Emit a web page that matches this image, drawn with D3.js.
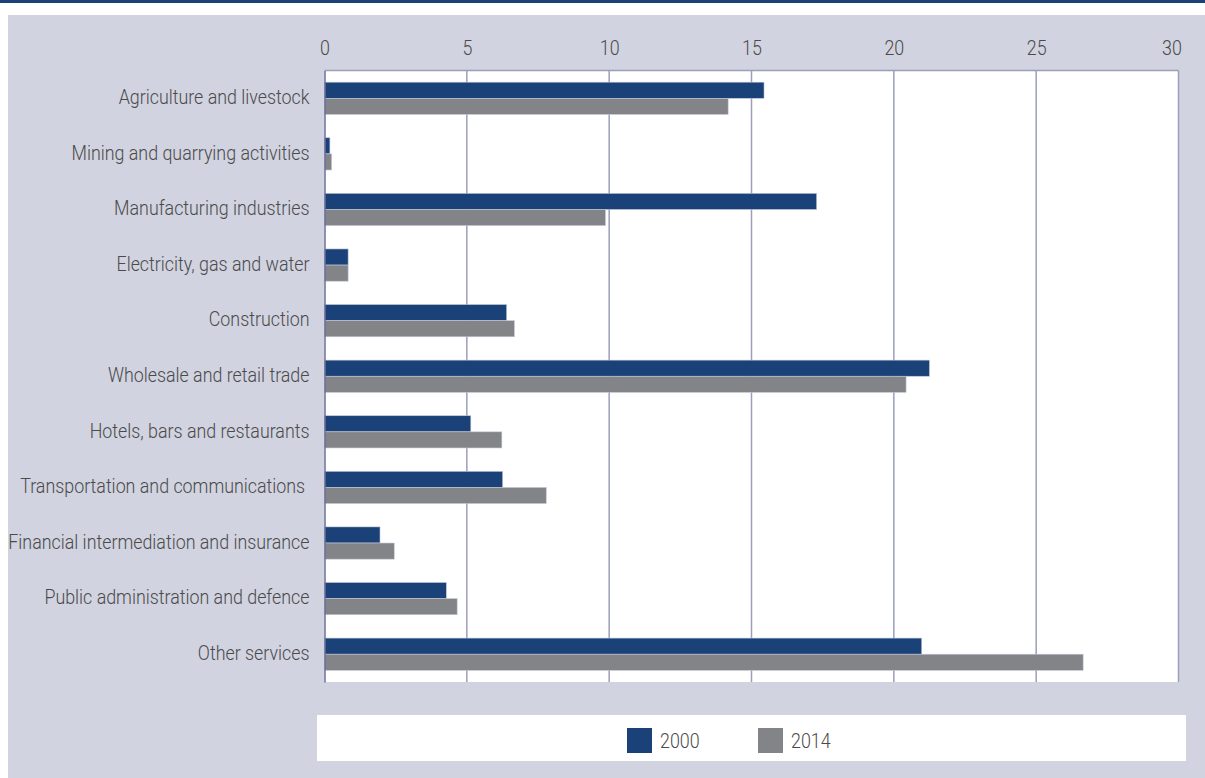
<!DOCTYPE html>
<html>
<head>
<meta charset="utf-8">
<script src="https://cdn.jsdelivr.net/npm/d3@7"></script>
<style>
    body { margin: 0; background: #fff; }
    svg text { font-family: 'Roboto', 'Liberation Sans', sans-serif; font-weight: 300; fill: #4a4a4a; white-space: pre; }
</style>
</head>
<body>
<svg id="chart" width="1205" height="778"></svg>
<script>
// sectors, top to bottom
var categories = [
    'Agriculture and livestock',
    'Mining and quarrying activities',
    'Manufacturing industries',
    'Electricity, gas and water',
    'Construction',
    'Wholesale and retail trade',
    'Hotels, bars and restaurants',
    'Transportation and communications ',
    'Financial intermediation and insurance',
    'Public administration and defence',
    'Other services'
]
var values2000 = [15.44, 0.19, 17.29, 0.83, 6.40, 21.25, 5.14, 6.26, 1.95, 4.28, 20.98]
var values2014 = [14.18, 0.25, 9.87, 0.83, 6.67, 20.43, 6.23, 7.79, 2.45, 4.66, 26.65]
var seriesNames = ['2000', '2014']
var xTicks = [0, 5, 10, 15, 20, 25, 30]

var colors = { '2000': '#1a4279', '2014': '#838488' }
var squeeze = 0.85 // condensed look

var svg = d3.select('#chart')

// header line + grey panel
svg.append('rect').attr('x', 0).attr('y', 0).attr('width', 1205).attr('height', 3).attr('fill', '#1a4279')
svg.append('rect').attr('x', 8).attr('y', 15).attr('width', 1197).attr('height', 763).attr('fill', '#d1d3e0')

var plot = { left: 324.5, right: 1178.5, top: 70.5, bottom: 682 }

var x = d3.scaleLinear()
    .domain([0, 30])
    .range([plot.left, plot.right])

var y = d3.scaleBand()
    .domain(categories)
    .range([plot.top, plot.bottom])
    .paddingInner(0.42)
    .paddingOuter(0.21)

var sub = d3.scaleBand()
    .domain(seriesNames)
    .range([0, y.bandwidth()])

svg.append('rect')
    .attr('x', plot.left).attr('y', plot.top)
    .attr('width', plot.right - plot.left).attr('height', plot.bottom - plot.top)
    .attr('fill', '#fff')

// vertical grid
svg.append('g')
    .selectAll('line')
    .data(xTicks.slice(1))
    .enter()
    .append('line')
    .attr('x1', function (d) { return x(d) })
    .attr('x2', function (d) { return x(d) })
    .attr('y1', plot.top)
    .attr('y2', plot.bottom)
    .attr('stroke', '#9c9eba')
    .attr('stroke-width', 1.5)

svg.append('line')
    .attr('x1', plot.left).attr('x2', plot.right)
    .attr('y1', plot.top).attr('y2', plot.top)
    .attr('stroke', '#9c9eba').attr('stroke-width', 1.5)

// top axis labels
var xAxis = d3.axisTop(x).tickValues(xTicks).tickSize(0).tickPadding(16).tickFormat(d3.format('d'))
var gx = svg.append('g')
    .attr('transform', 'translate(0,' + plot.top + ')')
    .call(xAxis)
gx.select('.domain').remove()
gx.selectAll('text')
    .style('font-size', '21px')
    .attr('fill', '#4a4a4a')
    .attr('transform', function (d) { return 'translate(' + (d === 30 ? -7 : 0) + ',0) scale(' + squeeze + ',1)' })

// bars
var data = categories.map(function (c, i) {
    return { cat: c, vals: [{ s: '2000', v: values2000[i] }, { s: '2014', v: values2014[i] }] }
})

var groups = svg.append('g')
    .selectAll('g')
    .data(data)
    .enter()
    .append('g')
    .attr('transform', function (d) { return 'translate(0,' + y(d.cat) + ')' })

groups.selectAll('rect')
    .data(function (d) { return d.vals })
    .enter()
    .append('rect')
    .attr('x', x(0))
    .attr('y', function (d) { return sub(d.s) })
    .attr('width', function (d) { return x(d.v) - x(0) })
    .attr('height', sub.bandwidth())
    .attr('fill', function (d) { return colors[d.s] })
    .attr('stroke', '#c4c8d8')
    .attr('stroke-width', 0.6)

// left axis
var yAxis = d3.axisLeft(y).tickSize(0).tickPadding(15)
var gy = svg.append('g')
    .attr('transform', 'translate(' + plot.left + ',0)')
    .call(yAxis)
gy.select('.domain').attr('stroke', '#6b6f9a').attr('stroke-width', 1.5)
gy.selectAll('text')
    .style('font-size', '21px')
    .attr('fill', '#4a4a4a')
    .attr('x', -15 / squeeze)
    .attr('dy', '0.27em')
    .attr('transform', 'scale(' + squeeze + ',1)')

// legend
svg.append('rect')
    .attr('x', 317).attr('y', 715)
    .attr('width', 869).attr('height', 46)
    .attr('fill', '#fff')

var legend = svg.append('g')
    .selectAll('g')
    .data(seriesNames)
    .enter()
    .append('g')
    .attr('transform', function (d, i) { return 'translate(' + (627 + i * 131) + ',728)' })

legend.append('rect')
    .attr('width', 25)
    .attr('height', 25)
    .attr('fill', function (d) { return colors[d] })

legend.append('text')
    .attr('x', 33 / squeeze)
    .attr('y', 13)
    .attr('dy', '0.35em')
    .attr('transform', 'scale(' + squeeze + ',1)')
    .style('font-size', '21px')
    .text(function (d) { return d })
</script>
</body>
</html>
